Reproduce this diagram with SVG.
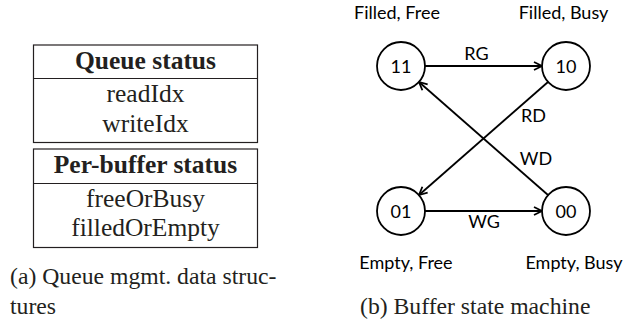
<svg xmlns="http://www.w3.org/2000/svg" width="623" height="321" viewBox="0 0 623 321">
  <style>
    .serif { font-family: "Liberation Serif", "Times New Roman", serif; fill: #231f20; }
    .cell { font-size: 25.5px; text-anchor: middle; }
    .head { font-size: 25.5px; font-weight: bold; text-anchor: middle; }
    .cap { font-size: 23.7px; }
    .box { fill: none; stroke: #231f20; stroke-width: 1.2; }
    .sans { font-family: Lato, "Open Sans", sans-serif; fill: #000; font-size: 18px; text-anchor: middle; }
    .state { fill: #fff; stroke: #000; stroke-width: 1.8; }
    .edge { fill: none; stroke: #000; stroke-width: 1.8; marker-end: url(#open); }
  </style>
  <defs>
    <marker id="open" viewBox="0 0 10 10" refX="9" refY="5" markerWidth="10" markerHeight="10" markerUnits="userSpaceOnUse" orient="auto">
      <path d="M1,1 L9,5 L1,9" fill="none" stroke="#000" stroke-width="1.8"/>
    </marker>
  </defs>
  <rect width="623" height="321" fill="#fff"/>

  <!-- (a) queue management tables -->
  <g id="queue-status">
    <rect class="box" x="33.5" y="45" width="224" height="97.5"/>
    <line class="box" x1="33.5" y1="78.5" x2="257.5" y2="78.5"/>
    <text class="serif head" x="145.5" y="68.5">Queue status</text>
    <text class="serif cell" x="145.5" y="101.5">readIdx</text>
    <text class="serif cell" x="145.5" y="131.5">writeIdx</text>
  </g>
  <g id="per-buffer-status">
    <rect class="box" x="33.5" y="149" width="224" height="98.5"/>
    <line class="box" x1="33.5" y1="183.5" x2="257.5" y2="183.5"/>
    <text class="serif head" x="145.5" y="173">Per-buffer status</text>
    <text class="serif cell" x="145.5" y="206.5">freeOrBusy</text>
    <text class="serif cell" x="145.5" y="235.5">filledOrEmpty</text>
  </g>
  <g id="caption-a">
    <text class="serif cap" x="10" y="283.5">(a) Queue mgmt. data struc-</text>
    <text class="serif cap" x="10" y="313.5">tures</text>
  </g>

  <!-- (b) buffer state machine -->
  <g id="connectors">
    <line id="rg" class="edge" x1="425" y1="66" x2="542" y2="66"/>
    <line id="wg" class="edge" x1="425" y1="211" x2="542" y2="211"/>
    <line id="rd" class="edge" x1="548" y1="82" x2="419" y2="195"/>
    <line id="wd" class="edge" x1="548" y1="195" x2="419" y2="82"/>
    <text class="sans" x="476.5" y="60">RG</text>
    <text class="sans" x="484" y="228">WG</text>
    <text class="sans" x="533.5" y="121.5">RD</text>
    <text class="sans" x="536" y="165">WD</text>
  </g>
  <g id="s11">
    <circle class="state" cx="401" cy="66" r="24"/>
    <text class="sans" x="401" y="72.5">11</text>
    <text class="sans" x="397" y="18.5">Filled, Free</text>
  </g>
  <g id="s10">
    <circle class="state" cx="566" cy="66" r="24"/>
    <text class="sans" x="566" y="72.5">10</text>
    <text class="sans" x="563.5" y="18.5">Filled, Busy</text>
  </g>
  <g id="s01">
    <circle class="state" cx="401" cy="211" r="24"/>
    <text class="sans" x="401" y="217.5">01</text>
    <text class="sans" x="406" y="268.5">Empty, Free</text>
  </g>
  <g id="s00">
    <circle class="state" cx="566" cy="211" r="24"/>
    <text class="sans" x="566" y="217.5">00</text>
    <text class="sans" x="574" y="268.5">Empty, Busy</text>
  </g>
  <g id="caption-b">
    <text class="serif cap" x="360" y="313.5">(b) Buffer state machine</text>
  </g>
</svg>
